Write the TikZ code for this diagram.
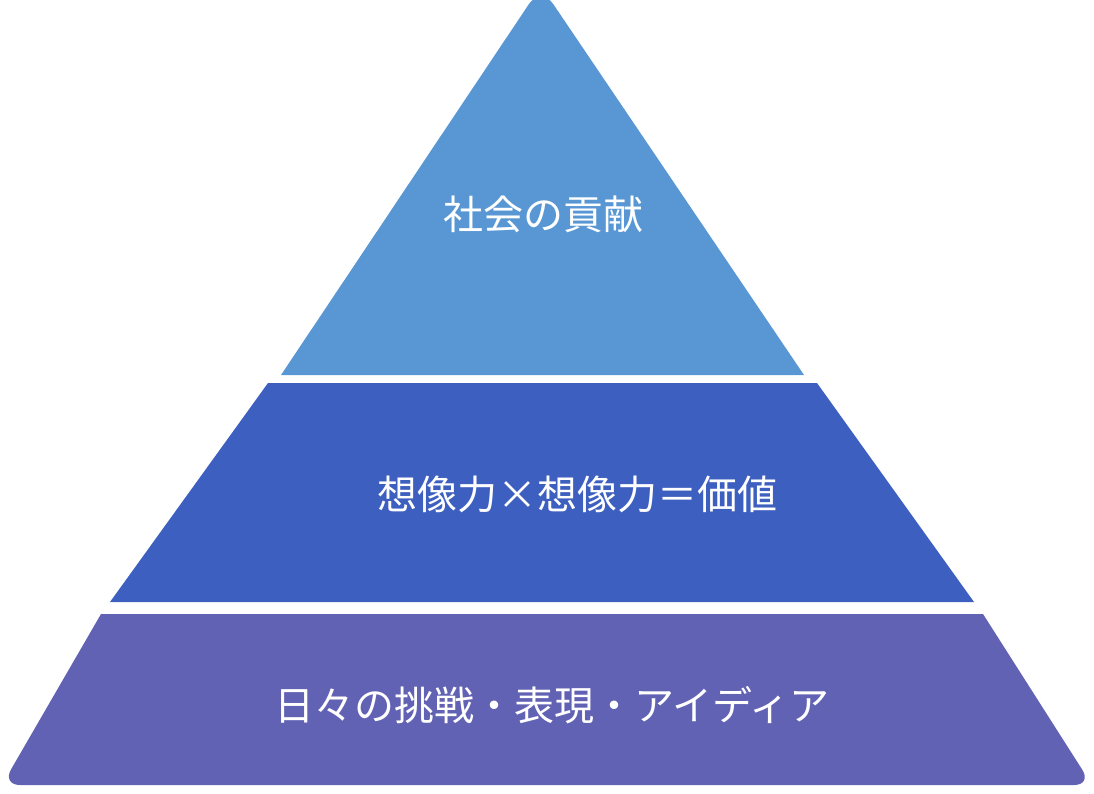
\documentclass[tikz,border=0pt]{standalone}
\usepackage{fontspec}
\setmainfont{Noto Sans CJK JP}
\definecolor{tierTop}{HTML}{5897D4}
\definecolor{tierMid}{HTML}{3D5FC0}
\definecolor{tierLow}{HTML}{6262B5}
\tikzset{
  tier/.style={draw=none},
  label/.style={text=white, font=\fontsize{40}{48}\selectfont, inner sep=0pt}
}
\begin{document}
\begin{tikzpicture}[x=1pt, y=-1pt]
    \useasboundingbox (0,0) rectangle (1094,794);

    % tiers
    \fill[tier, tierTop] (281,375) [rounded corners=22] -- (541,-14) [sharp corners] -- (804,375) -- cycle;
    \fill[tier, tierMid] (268,383) -- (817,383) -- (974,602) -- (110,602) -- cycle;
    \fill[tier, tierLow] (101,614) -- (983,614) [rounded corners=18] -- (1092,785) -- (2,785) [sharp corners] -- cycle;

    % texts
    \node[label] (social) at (543,214) {社会の貢献};
    \node[label] (value) at (577,494) {想像力×想像力＝価値};
    \node[label] (daily) at (552,705) {日々の挑戦・表現・アイディア};
\end{tikzpicture}
\end{document}
